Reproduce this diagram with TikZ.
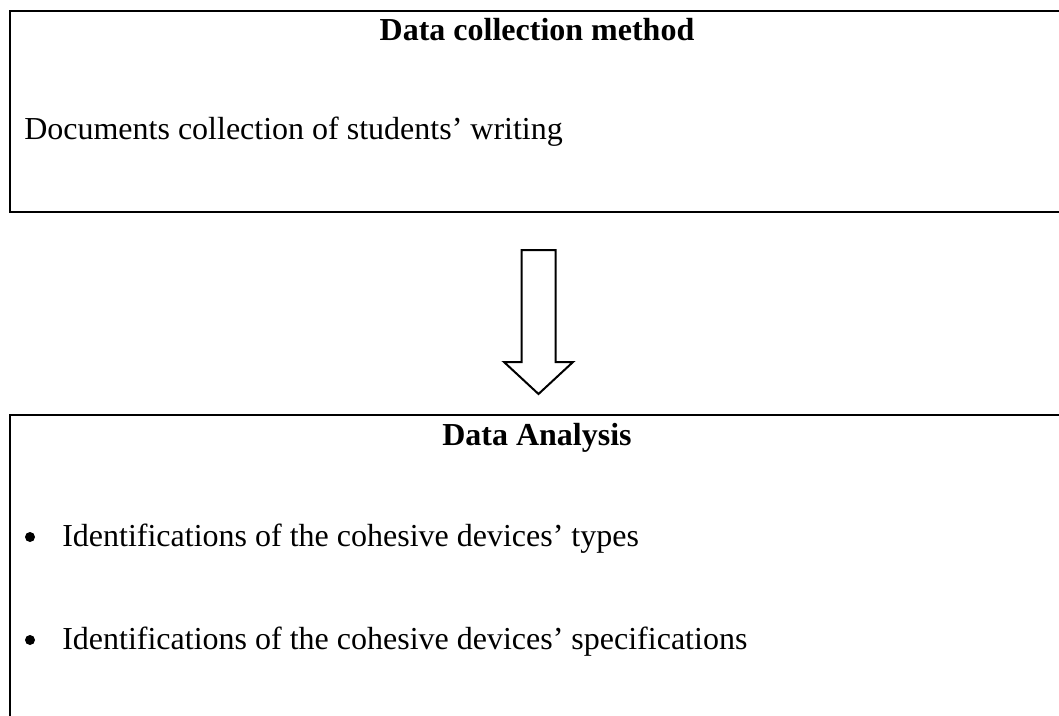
\documentclass[tikz,border=0pt]{standalone}
\usepackage{fontspec}
\setmainfont{Liberation Serif}
\begin{document}
\begin{tikzpicture}[x=0.75pt,y=-0.75pt,
  box/.style={draw=black, line width=1.5pt, rectangle, inner sep=0pt, anchor=north west},
  txt/.style={inner sep=0pt, font=\fontsize{24}{28}\selectfont},
  title/.style={txt, font=\fontsize{24}{28}\selectfont\bfseries, anchor=base},
  bulletdot/.style={fill=black, circle, inner sep=0pt, minimum size=7.5pt}]
\useasboundingbox (0,0) rectangle (1059,715);
\clip (0,0) rectangle (1059,715);
\fill[white] (0,0) rectangle (1059,715);
% boxes
\node[box, minimum width=792pt, minimum height=150.75pt] (topbox) at (9,10) {};
\node[box, minimum width=792pt, minimum height=240pt] (botbox) at (9,414) {};
% top texts
\node[title] (t1) at (537,40) {Data collection method};
\node[txt, anchor=base west] (d1) at (24,139) {Documents collection of students’ writing};
% arrow
\draw[line width=1.5pt, line join=miter, fill=white]
  (521.7,250) -- (555.7,250) -- (555.7,362) -- (573,362) -- (538.5,394)
  -- (504,362) -- (521.7,362) -- cycle;
% bottom texts
\node[title] (t2) at (537,445) {Data Analysis};
\node[bulletdot] (b1) at (30,537) {};
\node[txt, anchor=base west] (i1) at (62,546.5) {Identifications of the cohesive devices’ types};
\node[bulletdot] (b2) at (30,640) {};
\node[txt, anchor=base west] (i2) at (62,649) {Identifications of the cohesive devices’ specifications};
\end{tikzpicture}
\end{document}
